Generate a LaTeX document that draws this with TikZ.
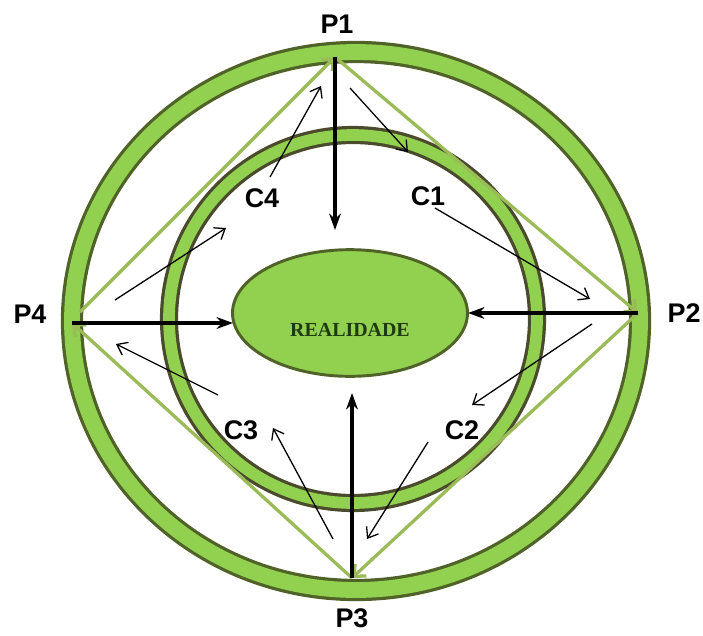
\documentclass[tikz,border=0pt]{standalone}
\usepackage{fontspec}
\setmainfont{Liberation Serif}
\setsansfont{Liberation Sans}
\usetikzlibrary{arrows.meta,shapes}
\definecolor{anelverde}{HTML}{92D050}
\definecolor{bordaescura}{HTML}{4F6228}
\definecolor{bordamarrom}{HTML}{4A4A2C}
\definecolor{linhaverde}{HTML}{9BBB59}
\definecolor{textoescuro}{HTML}{1E3A10}
\tikzset{
  rotulo/.style={font=\sffamily\bfseries\fontsize{23}{23}\selectfont},
  seta/.style={-{Straight Barb[length=8pt,width=12pt]}, line width=1.1pt},
  setagrossa/.style={-{Stealth[length=14pt,width=10pt]}, line width=3pt},
  lado/.style={draw=linhaverde, line width=2.8pt, -{Straight Barb[length=8pt,width=14pt]}}
}

\begin{document}
\begin{tikzpicture}[x=0.03cm,y=-0.03cm]
\useasboundingbox (0,0) rectangle (703,635);
% aneis
\draw[bordaescura, line width=19pt] (356,321) ellipse [x radius=284, y radius=269];
\draw[anelverde, line width=13.5pt] (356,321) ellipse [x radius=284, y radius=269];
\draw[bordamarrom, line width=15.5pt] (353,319) circle [radius=184];
\draw[anelverde, line width=10pt] (353,319) circle [radius=184];
% realidade
\node[ellipse, draw=bordaescura, line width=2.5pt, fill=anelverde,
  minimum width=7.05cm, minimum height=3.8cm] (realidade) at (350,313) {};
\node[font=\bfseries\fontsize{17}{17}\selectfont, text=textoescuro] (txtreal) at (350,330) {REALIDADE};
% pontos
\coordinate (p1) at (335,57);
\coordinate (p2) at (638,313);
\coordinate (p3) at (352,578);
\coordinate (p4) at (72,323);
\node[rotulo] (P1) at (337,24) {P1};
\node[rotulo] (P2) at (684,313) {P2};
\node[rotulo] (P3) at (352,618) {P3};
\node[rotulo] (P4) at (30,314) {P4};
\node[rotulo] (C1) at (428,196) {C1};
\node[rotulo] (C2) at (462,430) {C2};
\node[rotulo] (C3) at (241,430) {C3};
\node[rotulo] (C4) at (262,198) {C4};
% losango
\draw[lado] (80,312) -- (p1);
\draw[lado] (p1) -- (p2);
\draw[lado] (p2) -- (p3);
\draw[lado] (p3) -- (p4);
% setas grossas
\coordinate (r1) at (335,230);
\coordinate (r2) at (468,313);
\coordinate (r3) at (352,393);
\coordinate (r4) at (233,323);
\draw[setagrossa] (p1) -- (r1);
\draw[setagrossa] (p2) -- (r2);
\draw[setagrossa] (p3) -- (r3);
\draw[setagrossa] (p4) -- (r4);
% setas finas
\draw[seta] (350,88) -- (408,152);
\draw[seta] (435,208) -- (590,299);
\draw[seta] (592,324) -- (472,405);
\draw[seta] (428,442) -- (367,539);
\draw[seta] (333,539) -- (273,428);
\draw[seta] (218,395) -- (116,344);
\draw[seta] (115,300) -- (226,228);
\draw[seta] (270,177) -- (321,86);
\end{tikzpicture}
\end{document}
